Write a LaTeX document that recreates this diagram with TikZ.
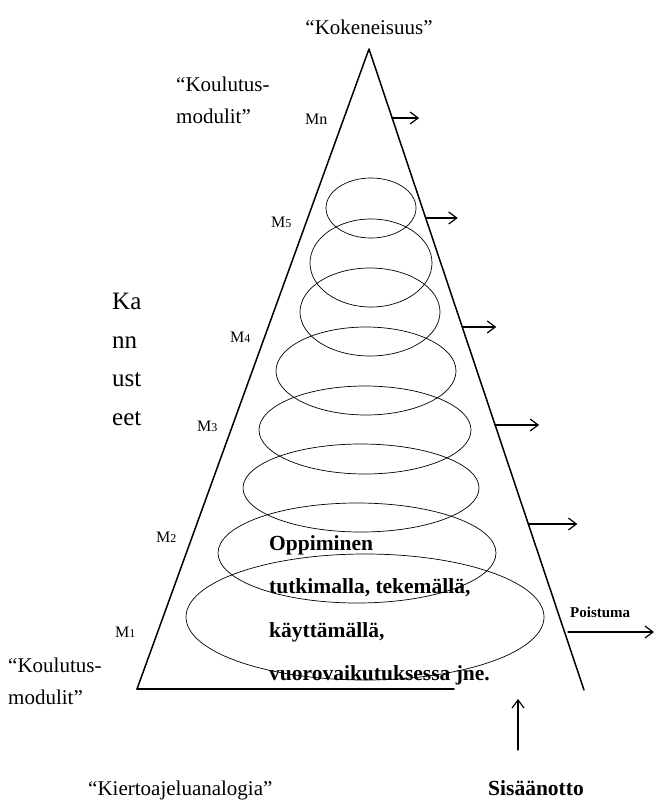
\documentclass[tikz,border=0pt]{standalone}
\usepackage{fontspec}
\setmainfont{Liberation Serif}
\usetikzlibrary{arrows.meta,calc,positioning}

\begin{document}
\begin{tikzpicture}[x=1pt,y=-1pt,line cap=round,line join=round,
  >={Straight Barb[length=8pt,width=12pt,line width=1.2pt]},
  lbl/.style={font=\fontsize{21}{32}\selectfont,align=left,inner sep=0pt,anchor=base west},
  kan/.style={font=\fontsize{25}{38.5}\selectfont,align=left,inner sep=0pt,anchor=base west},
  bold/.style={font=\fontsize{21.5}{43.5}\selectfont\bfseries,align=left,inner sep=0pt,anchor=base west},
  mlbl/.style={font=\fontsize{16}{16}\selectfont,inner sep=0pt,anchor=base west},
  edge/.style={draw,line width=1.5pt},
  ring/.style={draw,line width=0.7pt},
  outarr/.style={->,line width=1.3pt}]
\useasboundingbox (0,0) rectangle (656,800);
% triangle
\coordinate (apex) at (369,49);
\coordinate (lb) at (137,689);
\coordinate (rb) at (584,690);
\coordinate (bend) at (454,689);
\draw[edge] (lb) -- (apex) -- (rb);
\draw[edge] (lb) -- (bend);
% module rings
\foreach \cx/\cy/\rx/\ry in {371/208/45/30,371/263/61/44,370/312/70/44,366/371/90/44,
  365/430/106/44,361/488/118/44,357/553/139/50,365/617/179/63}
  \draw[ring] (\cx,\cy) ellipse [x radius=\rx pt,y radius=\ry pt];
% outflow arrows
\foreach \yy/\len [count=\i] in {118/27,218/32,327/34,425/44,524/49}{
  \coordinate (o\i) at ($(apex)!{(\yy-49)/641}!(rb)$);
  \draw[outarr] (o\i) -- ++(\len,0);
}
% labels (base = last line)
\node[lbl,anchor=base] (koke) at (369,35) {“Kokeneisuus”};
\node[lbl] (kmtop) at (176,123) {“Koulutus-\\modulit”};
\node[lbl] (kmbot) at (8,704) {“Koulutus-\\modulit”};
\node[kan] (kann) at (112,425) {Ka\\nn\\ust\\eet};
\node[lbl] (kierto) at (88,795) {“Kiertoajeluanalogia”};
\node[mlbl] (mn) at (305,124) {Mn};
\node[mlbl] (m5) at (271,227) {M{\fontsize{12}{12}\selectfont 5}};
\node[mlbl] (m4) at (230,342) {M{\fontsize{12}{12}\selectfont 4}};
\node[mlbl] (m3) at (197,431) {M{\fontsize{12}{12}\selectfont 3}};
\node[mlbl] (m2) at (156,542) {M{\fontsize{12}{12}\selectfont 2}};
\node[mlbl] (m1) at (115,637) {M{\fontsize{12}{12}\selectfont 1}};
\node[bold] (oppi) at (269,680.5) {Oppiminen\\tutkimalla, tekemällä,\\käyttämällä,\\vuorovaikutuksessa jne.};
% poistuma
\node[mlbl,font=\fontsize{15}{15}\selectfont\bfseries] (pois) at (570,617) {Poistuma};
\coordinate (ps) at (568,632);
\coordinate (pe) at (654,632);
\draw[outarr] (ps) -- (pe);
% sisaanotto
\node[lbl,font=\fontsize{21.5}{21.5}\selectfont\bfseries] (sisa) at (488,795) {Sisäänotto};
\coordinate (ss) at (518,750);
\coordinate (se) at (518,699);
\draw[outarr] (ss) -- (se);
\end{tikzpicture}
\end{document}
